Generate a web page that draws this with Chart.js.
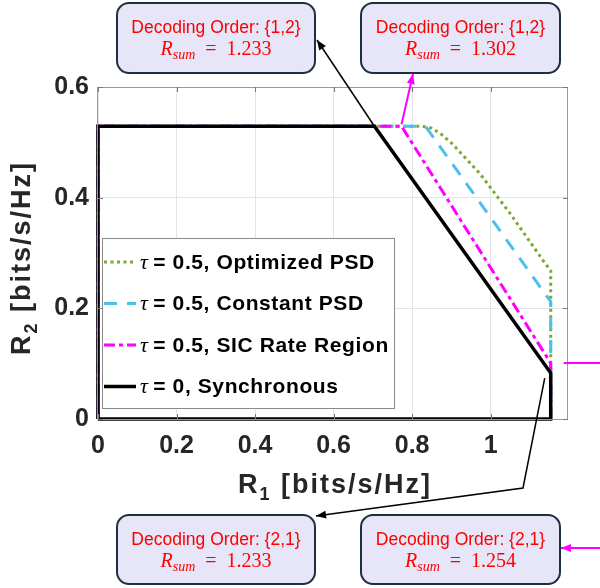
<!DOCTYPE html>
<html>
<head>
<meta charset="utf-8">
<script src="https://cdn.jsdelivr.net/npm/chart.js@4.4.0/dist/chart.umd.min.js"></script>
<style>
  html, body { margin: 0; padding: 0; background: #fff; }
  canvas { display: block; }
</style>
</head>
<body>
<canvas id="rateChart" width="600" height="588"></canvas>
<script>
// rate region outlines (R1, R2 in bits/s/Hz)
const syncR1 = [0, 0, 0.704, 1.153, 1.153, 0];
const syncR2 = [0, 0.529, 0.529, 0.083, 0, 0];
const sicR1 = [0, 0, 0.773, 1.153, 1.153];
const sicR2 = [0, 0.529, 0.529, 0.101, 0];
const constR1 = [0, 0, 0.834, 1.153, 1.153];
const constR2 = [0, 0.529, 0.529, 0.212, 0];
const optR1 = [0, 0, 0.825, 0.848, 0.872, 0.903, 0.93, 0.973, 1.05, 1.134, 1.153, 1.153];
const optR2 = [0, 0.529, 0.529, 0.526, 0.516, 0.497, 0.476, 0.443, 0.371, 0.286, 0.268, 0];

const seriesNames = ['τ = 0.5, Optimized PSD', 'τ = 0.5, Constant PSD', 'τ = 0.5, SIC Rate Region', 'τ = 0, Synchronous'];

const xTickVals = [0, 0.2, 0.4, 0.6, 0.8, 1];
const xTickLabels = ['0', '0.2', '0.4', '0.6', '0.8', '1'];
const yTickVals = [0, 0.2, 0.4, 0.6];
const yTickLabels = ['0', '0.2', '0.4', '0.6'];

// callout texts: top-left, top-right, bottom-left, bottom-right
const calloutOrders = ['{1,2}', '{1,2}', '{2,1}', '{2,1}'];
const calloutSums = ['1.233', '1.302', '1.233', '1.254'];

const toXY = (xs, ys) => xs.map((x, i) => ({ x: x, y: ys[i] }));
const SANS = '"Liberation Sans", Arial, sans-serif';
const SERIF = '"Liberation Serif", "DejaVu Serif", serif';

const lineCommon = { showLine: true, pointRadius: 0, fill: false, tension: 0, clip: false, borderWidth: 3 };

function drawParts(ctx, parts, x, y) {
    // parts: [text, font, dy]
    let total = 0;
    parts.forEach(p => { ctx.font = p[1]; total += ctx.measureText(p[0]).width; });
    let cx = x - total / 2;
    parts.forEach(p => {
        ctx.font = p[1];
        ctx.fillText(p[0], cx, y + (p[2] || 0));
        cx += ctx.measureText(p[0]).width;
    });
}

function arrow(ctx, pts, color, width, head) {
    ctx.save();
    ctx.strokeStyle = color;
    ctx.fillStyle = color;
    ctx.lineWidth = width;
    ctx.setLineDash([]);
    ctx.beginPath();
    ctx.moveTo(pts[0][0], pts[0][1]);
    for (let i = 1; i < pts.length; i++) ctx.lineTo(pts[i][0], pts[i][1]);
    ctx.stroke();
    if (head) {
        const [ax, ay] = pts[pts.length - 1];
        const [bx, by] = pts[pts.length - 2];
        const a = Math.atan2(ay - by, ax - bx);
        ctx.beginPath();
        ctx.moveTo(ax, ay);
        ctx.lineTo(ax - 10 * Math.cos(a) + 4 * Math.sin(a), ay - 10 * Math.sin(a) - 4 * Math.cos(a));
        ctx.lineTo(ax - 10 * Math.cos(a) - 4 * Math.sin(a), ay - 10 * Math.sin(a) + 4 * Math.cos(a));
        ctx.closePath();
        ctx.fill();
    }
    ctx.restore();
}

function callout(ctx, x, y, w, h, order, rsum) {
    ctx.save();
    ctx.beginPath();
    ctx.roundRect(x, y, w, h, 12);
    ctx.fillStyle = '#e6e6f8';
    ctx.fill();
    ctx.lineWidth = 2;
    ctx.strokeStyle = '#1e3040';
    ctx.stroke();
    ctx.fillStyle = '#ff0000';
    ctx.textBaseline = 'alphabetic';
    ctx.textAlign = 'left';
    const cx = x + w / 2, cy = y + h / 2;
    drawParts(ctx, [['Decoding Order: ' + order, '17.5px ' + SANS]], cx, cy - 5);
    drawParts(ctx, [
        ['R', 'italic 20px ' + SERIF],
        ['sum', 'italic 14px ' + SERIF, 4],
        ['  =  ' + rsum, '20px ' + SERIF]
    ], cx, cy + 17);
    ctx.restore();
}

const decorations = {
    id: 'decorations',
    afterDraw(chart) {
        const ctx = chart.ctx;
        const a = chart.chartArea;
        const xs = chart.scales.x, ys = chart.scales.y;

        // box and inward ticks
        ctx.save();
        ctx.strokeStyle = '#9a9a9a';
        ctx.lineWidth = 1;
        ctx.strokeRect(a.left - 0.5, a.top + 0.5, a.right - a.left, a.bottom - a.top);
        ctx.strokeStyle = '#777';
        ctx.beginPath();
        xTickVals.forEach(v => {
            const px = Math.round(xs.getPixelForValue(v)) + 0.5;
            ctx.moveTo(px, a.bottom); ctx.lineTo(px, a.bottom - 5);
            ctx.moveTo(px, a.top); ctx.lineTo(px, a.top + 5);
        });
        yTickVals.forEach(v => {
            const py = Math.round(ys.getPixelForValue(v)) + 0.5;
            ctx.moveTo(a.left, py); ctx.lineTo(a.left + 5, py);
            ctx.moveTo(a.right, py); ctx.lineTo(a.right - 5, py);
        });
        ctx.stroke();

        // axis titles with subscripts
        ctx.fillStyle = '#262626';
        ctx.textBaseline = 'alphabetic';
        ctx.textAlign = 'left';
        ctx.letterSpacing = '2px';
        const tf = 'bold 27px ' + SANS, sf = 'bold 18px ' + SANS;
        drawParts(ctx, [['R', tf], ['1', sf, 7], [' [bits/s/Hz]', tf]], (a.left + a.right) / 2 + 2, 493);
        ctx.translate(21, (a.top + a.bottom) / 2 + 5);
        ctx.rotate(-Math.PI / 2);
        drawParts(ctx, [['R', tf], ['2', sf, 7], [' [bits/s/Hz]', tf]], 0, 9);
        ctx.restore();

        // legend inside the axes
        ctx.save();
        const lx = a.left + 4, ly = 238, lw = 292, lh = 170;
        ctx.fillStyle = '#fff';
        ctx.fillRect(lx, ly, lw, lh);
        ctx.strokeStyle = '#8a8a8a';
        ctx.lineWidth = 1;
        ctx.strokeRect(lx + 0.5, ly + 0.5, lw, lh);
        chart.data.datasets.forEach((ds, i) => {
            const ry = ly + 24 + i * 41.5;
            ctx.strokeStyle = ds.borderColor;
            ctx.lineWidth = ds.borderWidth;
            ctx.setLineDash(ds.borderDash || []);
            ctx.beginPath();
            ctx.moveTo(lx + 2, ry);
            ctx.lineTo(lx + 34, ry);
            ctx.stroke();
            ctx.setLineDash([]);
            ctx.fillStyle = '#000';
            ctx.textBaseline = 'middle';
            ctx.textAlign = 'left';
            const label = ds.label;
            ctx.font = 'italic 22px ' + SERIF;
            ctx.letterSpacing = '0px';
            ctx.fillText(label[0], lx + 38, ry + 1);
            const tw = ctx.measureText(label[0]).width;
            ctx.font = 'bold 21px ' + SANS;
            ctx.letterSpacing = '0.6px';
            ctx.fillText(label.slice(1), lx + 37 + tw, ry + 1);
        });
        ctx.restore();

        // callouts and arrows
        ctx.save();
        ctx.letterSpacing = '0px';
        callout(ctx, 117, 3, 198, 70, calloutOrders[0], calloutSums[0]);
        callout(ctx, 361, 3, 199, 70, calloutOrders[1], calloutSums[1]);
        callout(ctx, 117, 515, 198, 69, calloutOrders[2], calloutSums[2]);
        callout(ctx, 361, 515, 199, 69, calloutOrders[3], calloutSums[3]);

        const syncCornerA = [xs.getPixelForValue(syncR1[2]), ys.getPixelForValue(syncR2[2])];
        const syncCornerB = [xs.getPixelForValue(syncR1[3]), ys.getPixelForValue(syncR2[3])];
        const sicCornerA = [xs.getPixelForValue(sicR1[2]), ys.getPixelForValue(sicR2[2])];
        const sicCornerB = [xs.getPixelForValue(sicR1[3]), ys.getPixelForValue(sicR2[3])];

        arrow(ctx, [syncCornerA, [317, 40]], '#000', 1.5, true);
        arrow(ctx, [[sicCornerA[0], sicCornerA[1] - 2], [413, 74]], '#ff00ff', 2, true);
        arrow(ctx, [[sicCornerB[0] + 13, sicCornerB[1]], [600, sicCornerB[1]]], '#ff00ff', 2, false);
        arrow(ctx, [[600, 548], [561, 548]], '#ff00ff', 2, true);
        arrow(ctx, [[syncCornerB[0] - 6, syncCornerB[1] + 5], [523, 488], [316, 516]], '#000', 1.5, true);
        ctx.restore();
    }
};

const tickFont = { family: SANS, size: 25, weight: 'bold' };

new Chart(document.getElementById('rateChart'), {
    type: 'scatter',
    data: {
        datasets: [
            Object.assign({}, lineCommon, { label: seriesNames[0], data: toXY(optR1, optR2), borderColor: '#77ac30', borderDash: [3, 3.5], order: 3 }),
            Object.assign({}, lineCommon, { label: seriesNames[1], data: toXY(constR1, constR2), borderColor: '#4dbeee', borderDash: [13, 10], order: 2 }),
            Object.assign({}, lineCommon, { label: seriesNames[2], data: toXY(sicR1, sicR2), borderColor: '#ff00ff', borderDash: [11, 4, 4, 4], order: 1 }),
            Object.assign({}, lineCommon, { label: seriesNames[3], data: toXY(syncR1, syncR2), borderColor: '#000000', borderWidth: 3.5, order: 0 })
        ]
    },
    options: {
        responsive: false,
        animation: false,
        layout: { padding: { top: 87, right: 32, left: 0, bottom: 0 } },
        plugins: { legend: { display: false }, tooltip: { enabled: false } },
        scales: {
            x: {
                type: 'linear', min: 0, max: 1.197,
                afterBuildTicks: s => { s.ticks = xTickVals.map(v => ({ value: v })); },
                afterFit: s => { s.height = 169; },
                ticks: {
                    font: tickFont, color: '#262626', padding: 12, maxRotation: 0, autoSkip: false,
                    callback: v => { const i = xTickVals.indexOf(v); return i >= 0 ? xTickLabels[i] : ''; }
                },
                grid: { color: '#e4e4e4', drawTicks: false },
                border: { display: false }
            },
            y: {
                type: 'linear', min: 0, max: 0.6,
                afterBuildTicks: s => { s.ticks = yTickVals.map(v => ({ value: v })); },
                afterFit: s => { s.width = 98; },
                ticks: {
                    font: tickFont, color: '#262626', padding: 9, autoSkip: false,
                    callback: v => { const i = yTickVals.indexOf(v); return i >= 0 ? yTickLabels[i] : ''; }
                },
                grid: { color: '#e4e4e4', drawTicks: false },
                border: { display: false }
            }
        }
    },
    plugins: [decorations]
});
</script>
</body>
</html>
